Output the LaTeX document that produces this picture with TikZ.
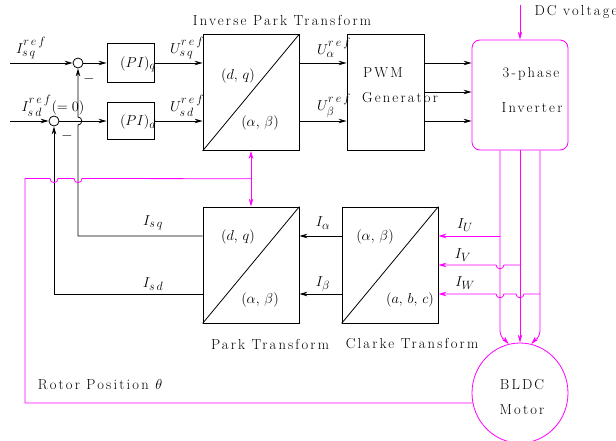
\documentclass[tikz,border=0pt]{standalone}
\usepackage{fontspec}
\setmainfont{Latin Modern Roman}[LetterSpace=15]
\usetikzlibrary{arrows.meta,positioning,shapes.geometric,calc}
\definecolor{magline}{RGB}{255,0,255}
\DeclareMathSizes{14.5}{14.5}{11.5}{9}
\newcommand{\refup}{\raisebox{2.5pt}{$\scriptstyle r\,e\,f$}}

\begin{document}
\begin{tikzpicture}[
    x=1pt, y=-1pt,
    font=\fontsize{14.5}{17}\selectfont,
    line width=0.8pt,
    >={Stealth[length=8pt,width=4.5pt]},
    block/.style={draw, minimum width=96pt, minimum height=116pt, inner sep=0pt},
    picontrol/.style={draw, minimum width=47pt, minimum height=38pt, inner sep=0pt},
    sumpoint/.style={draw, circle, minimum size=10pt, inner sep=0pt},
    mag/.style={magline},
    every node/.append style={inner sep=1pt}
]
\useasboundingbox (0,0) rectangle (616,441);

% forward path
\node[sumpoint] (sumq) at (78,63) {};
\node[sumpoint] (sumd) at (54,121) {};
\node[picontrol, minimum height=39pt] (piq) at (130.5,63) {};
\node[picontrol, minimum height=37pt] (pid) at (130.5,121) {};
\node[block] (ipark) at (251,92.5) {};
\node[block, minimum width=77pt] (pwm) at (385.5,92.5) {};
\node[block, mag, rounded corners=8pt, minimum height=110pt] (inv) at (520,95) {};

% feedback path
\node[block] (park) at (251,265) {};
\node[block] (clarke) at (390,265) {};
\node[ellipse, draw, mag, minimum width=96pt, minimum height=100pt] (motor) at (520,393) {};

\foreach \b in {ipark,park,clarke}
    \draw (\b.south west) -- (\b.north east);

\coordinate (isqin) at (10,63);
\coordinate (isdin) at (10,121);
\coordinate (dcin) at (520,5);
\coordinate (theta) at ($(ipark.south)!0.5!(park.north)$);

\draw[->] (isqin) -- (sumq);
\draw[->] (isdin) -- (sumd);
\draw[->] (sumq) -- (piq);
\draw[->] (sumd) -- (pid);
\draw[->] (piq) -- (piq -| ipark.west);
\draw[->] (pid) -- (pid -| ipark.west);
\draw[->] (ipark.east |- sumq) -- (pwm.west |- sumq);
\draw[->] (ipark.east |- sumd) -- (pwm.west |- sumd);
\foreach \yy in {63,92,121}
    \draw[->] (pwm.east |- 0,\yy) -- (inv.west |- 0,\yy);
\draw[mag,->] (dcin) -- (inv.north);

% inverter to motor
\draw[mag,->] (inv.south -| 500,0) -- (500,330) .. controls (500,338) and (505,340) .. (motor.103);
\draw[mag,->] (inv.south) -- (motor.north);
\draw[mag,->] (inv.south -| 540,0) -- (540,330) .. controls (540,338) and (535,340) .. (motor.77);

% current sensing
\draw[mag,->] (500,236) -- (clarke.east |- 0,236);
\draw[mag,->] (520,265) -- (504,265) .. controls (504,270) and (496,270) .. (496,265) -- (clarke.east |- 0,265);
\draw[mag,->] (540,294) -- (524,294) .. controls (524,299) and (516,299) .. (516,294)
    -- (504,294) .. controls (504,299) and (496,299) .. (496,294) -- (clarke.east |- 0,294);

\draw[->] (clarke.west |- 0,236) -- (park.east |- 0,236);
\draw[->] (clarke.west |- 0,294) -- (park.east |- 0,294);
\draw[->] (park.west |- 0,236) -- (78,236) -- (78,125) .. controls (83,125) and (83,117) .. (78,117) -- (sumq);
\draw[->] (park.west |- 0,294) -| (sumd);

% rotor position
\draw[mag] (motor.192) -| (25,178.5) -- (50,178.5) .. controls (50,184) and (58,184) .. (58,178.5)
    -- (74,178.5) .. controls (74,184) and (82,184) .. (82,178.5) -- (theta);
\draw[mag,<->] (ipark.south) -- (park.north);

% texts
\node (tipark) at (282,20) {Inverse Park Transform};
\node (tdc) at (576,12) {DC voltage};
\node (tpark) at (270,344) {Park Transform};
\node (tclarke) at (412,344) {Clarke Transform};
\node (trotor) at (100,385) {Rotor Position $\theta$};
\node (tisqref) at (31,48) {$I_{s\,q}^{\refup}$};
\node (tisdref) at (53,106) {$I_{s\,d}^{\refup}(=0)$};
\node (mq) at (89,79) {$-$};
\node (md) at (67,136) {$-$};
\node (tpiq) at (138,64) {$(PI)_q$};
\node (tpid) at (138,122) {$(PI)_d$};
\node (tusq) at (187,48) {$U_{s\,q}^{\refup}$};
\node (tusd) at (187,106) {$U_{s\,d}^{\refup}$};
\node (tua) at (334,48) {$U_{\alpha}^{\refup}$};
\node (tub) at (334,106) {$U_{\beta}^{\refup}$};
\node (ipdq) at (238,76) {$(d,\,q)$};
\node (ipab) at (260,123) {$(\alpha,\,\beta)$};
\node (tpwm) at (383,73) {PWM};
\node (tgen) at (400,98) {Generator};
\node (tph) at (531,74) {3-phase};
\node (tinv) at (532,108) {Inverter};
\node (pdq) at (238,237) {$(d,\,q)$};
\node (pab) at (260,300) {$(\alpha,\,\beta)$};
\node (cab) at (375,237) {$(\alpha,\,\beta)$};
\node (cabc) at (410,300) {$(a,\,b,\,c)$};
\node (tisq) at (153,223) {$I_{s\,q}$};
\node (tisd) at (153,284) {$I_{s\,d}$};
\node (tia) at (323,223) {$I_{\alpha}$};
\node (tib) at (323,284) {$I_{\beta}$};
\node (tiu) at (465,225) {$I_U$};
\node (tiv) at (463,255) {$I_V$};
\node (tiw) at (465,283) {$I_W$};
\node (tbldc) at (522,385) {BLDC};
\node (tmotor) at (522,410) {Motor};

\end{tikzpicture}
\end{document}
